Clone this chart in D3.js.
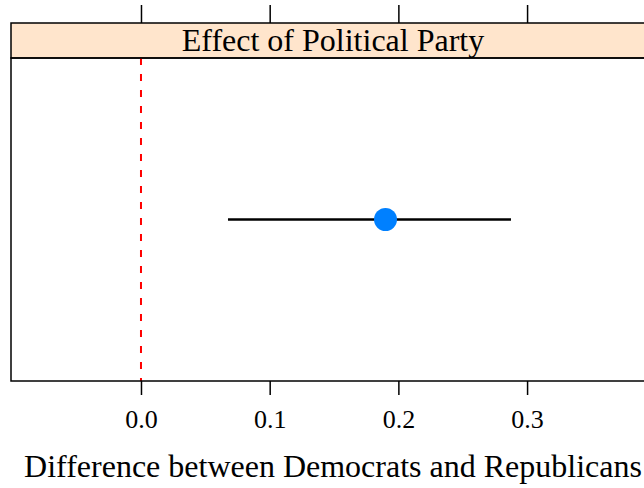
<!DOCTYPE html>
<html>
<head>
<meta charset="utf-8">
<script src="https://cdn.jsdelivr.net/npm/d3@7"></script>
<style>
  body { margin: 0; background: white; }
  text { font-family: "Liberation Serif", "Times New Roman", serif; }
</style>
</head>
<body>
<div id="chart"></div>
<script>
// effect estimate with interval
const stripLabel = "Effect of Political Party";
const axisTitle = "Difference between Democrats and Republicans";
const estimates = [0.19];
const lowers = [0.0676];
const uppers = [0.2875];
const tickValues = [0.0, 0.1, 0.2, 0.3];
const refLine = [0];

const W = 644, H = 488;
const margin = { top: 23, left: 11 };
const panelRight = 655;
const stripH = 35;
const panelTop = margin.top + stripH;
const panelBottom = 381;

const svg = d3.select("#chart").append("svg")
    .attr("width", W)
    .attr("height", H);

const x = d3.scaleLinear()
    .domain([-0.101, 0.3994])
    .range([margin.left, panelRight]);

const y = d3.scalePoint()
    .domain(estimates.map((d, i) => i))
    .range([panelTop, panelBottom])
    .padding(0.5);

// strip
svg.append("rect")
    .attr("x", margin.left).attr("y", margin.top)
    .attr("width", panelRight - margin.left).attr("height", stripH)
    .attr("fill", "#ffe5cc")
    .attr("stroke", "black").attr("stroke-width", 1.5);

svg.append("text")
    .attr("x", (margin.left + panelRight) / 2)
    .attr("y", 51)
    .attr("text-anchor", "middle")
    .style("font-size", "32px")
    .text(stripLabel);

// reference line
svg.selectAll("line.ref")
    .data(refLine)
    .enter().append("line")
    .attr("class", "ref")
    .attr("x1", d => x(d)).attr("x2", d => x(d))
    .attr("y1", panelTop).attr("y2", panelBottom)
    .attr("stroke", "red").attr("stroke-width", 2)
    .attr("stroke-dasharray", "7,9");

// panel frame
svg.append("rect")
    .attr("x", margin.left).attr("y", panelTop)
    .attr("width", panelRight - margin.left).attr("height", panelBottom - panelTop)
    .attr("fill", "none")
    .attr("stroke", "black").attr("stroke-width", 1.5);

// axes
const bottomAxis = d3.axisBottom(x)
    .tickValues(tickValues)
    .tickFormat(d3.format(".1f"))
    .tickSize(14)
    .tickPadding(15);

const gb = svg.append("g")
    .attr("transform", `translate(0,${panelBottom})`)
    .call(bottomAxis);
gb.select(".domain").remove();
gb.selectAll(".tick line").attr("stroke-width", 1.5);
gb.selectAll("text").style("font-size", "26px").attr("fill", "black")
    .attr("font-family", "Liberation Serif, serif");

const topAxis = d3.axisTop(x)
    .tickValues(tickValues)
    .tickFormat("")
    .tickSize(18);

const gt = svg.append("g")
    .attr("transform", `translate(0,${margin.top})`)
    .call(topAxis);
gt.select(".domain").remove();
gt.selectAll(".tick line").attr("stroke-width", 1.5);

// intervals and points
svg.selectAll("line.ci")
    .data(estimates)
    .enter().append("line")
    .attr("class", "ci")
    .attr("x1", (d, i) => x(lowers[i]))
    .attr("x2", (d, i) => x(uppers[i]))
    .attr("y1", (d, i) => y(i)).attr("y2", (d, i) => y(i))
    .attr("stroke", "black").attr("stroke-width", 2.5);

svg.selectAll("circle.pt")
    .data(estimates)
    .enter().append("circle")
    .attr("class", "pt")
    .attr("cx", d => x(d))
    .attr("cy", (d, i) => y(i))
    .attr("r", 11.5)
    .attr("fill", "#0080ff");

// axis title
svg.append("text")
    .attr("x", (margin.left + panelRight) / 2)
    .attr("y", 477)
    .attr("text-anchor", "middle")
    .style("font-size", "32px")
    .text(axisTitle);
</script>
</body>
</html>
